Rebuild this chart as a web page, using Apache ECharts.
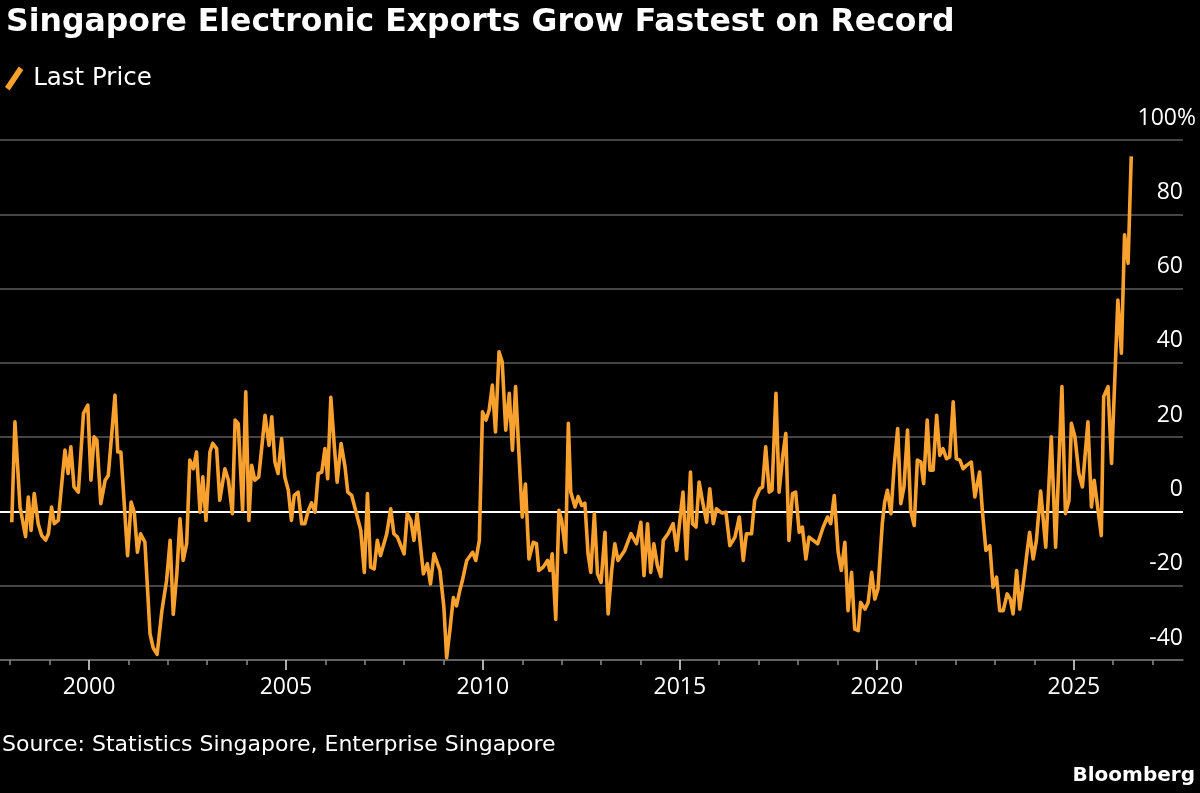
<!DOCTYPE html>
<html>
<head>
<meta charset="utf-8">
<script src="https://cdn.jsdelivr.net/npm/echarts@6/dist/echarts.min.js"></script>
<style>
html,body{margin:0;padding:0;background:#000;}
#chart{width:1200px;height:793px;}
</style>
</head>
<body>
<div id="chart"></div>
<script>
// Dates as decimal years
const dates = [
1998.04,1998.12,1998.25,1998.39,1998.46,1998.53,1998.61,1998.71,1998.80,1998.90,1998.97,
1999.05,1999.12,1999.22,1999.39,1999.47,1999.54,1999.62,1999.73,1999.86,1999.97,
2000.05,2000.13,2000.20,2000.30,2000.41,2000.49,2000.66,2000.73,2000.81,2000.98,
2001.07,2001.15,2001.23,2001.31,2001.42,2001.55,2001.63,2001.73,2001.85,2001.97,
2002.06,2002.14,2002.23,2002.31,2002.39,2002.48,2002.56,2002.65,2002.73,2002.82,2002.89,2002.97,
2003.07,2003.14,2003.24,2003.32,2003.45,2003.54,2003.64,2003.71,2003.79,2003.90,2003.98,
2004.06,2004.13,2004.21,2004.31,2004.47,2004.57,2004.64,2004.72,2004.80,2004.89,2004.97,
2005.06,2005.14,2005.21,2005.31,2005.40,2005.48,2005.57,2005.65,2005.74,2005.82,2005.91,2005.99,
2006.06,2006.14,2006.23,2006.30,2006.40,2006.50,2006.57,2006.67,2006.79,2006.90,2006.99,
2007.07,2007.15,2007.24,2007.32,2007.40,2007.56,2007.66,2007.74,2007.83,
2008.00,2008.08,2008.17,2008.25,2008.33,2008.49,2008.59,2008.67,2008.76,2008.91,
2009.01,2009.08,2009.16,2009.25,2009.33,2009.42,2009.48,2009.59,2009.74,2009.82,2009.91,2009.99,
2010.08,2010.16,2010.24,2010.32,2010.41,2010.49,2010.58,2010.67,2010.75,2010.83,2010.91,
2011.00,2011.08,2011.17,2011.28,2011.36,2011.42,2011.53,2011.64,2011.70,2011.76,2011.85,2011.93,
2012.00,2012.10,2012.17,2012.23,2012.34,2012.42,2012.51,2012.59,2012.67,2012.74,2012.83,2012.91,
2013.00,2013.10,2013.18,2013.27,2013.35,2013.43,2013.60,2013.76,2013.90,
2014.01,2014.09,2014.18,2014.26,2014.34,2014.43,2014.52,2014.58,2014.70,2014.83,2014.92,
2015.00,2015.08,2015.17,2015.27,2015.32,2015.41,2015.49,2015.58,2015.68,2015.76,2015.85,2015.93,
2016.06,2016.17,2016.27,2016.40,2016.51,2016.61,2016.69,2016.82,2016.90,
2017.03,2017.10,2017.18,2017.27,2017.34,2017.44,2017.52,2017.61,2017.69,2017.77,2017.86,2017.94,
2018.03,2018.11,2018.20,2018.28,2018.50,2018.64,2018.75,2018.83,2018.92,
2019.02,2019.10,2019.19,2019.27,2019.36,2019.44,2019.53,2019.59,2019.70,2019.78,2019.87,2019.95,
2020.03,2020.14,2020.20,2020.27,2020.36,2020.44,2020.53,2020.61,2020.69,2020.78,2020.86,2020.95,
2021.03,2021.12,2021.19,2021.28,2021.35,2021.43,2021.52,2021.60,2021.68,2021.77,2021.85,2021.94,
2022.02,2022.11,2022.19,2022.28,2022.40,2022.49,2022.61,2022.68,2022.77,2022.87,2022.95,
2023.04,2023.12,2023.21,2023.31,2023.39,2023.46,2023.55,2023.63,2023.73,2023.82,2023.88,2023.97,
2024.05,2024.16,2024.29,2024.43,2024.54,2024.70,2024.79,2024.88,2024.94,
2025.03,2025.13,2025.22,2025.36,2025.45,2025.52,2025.70,2025.76,2025.87,2025.96,
2026.12,2026.21,2026.29,2026.38,2026.46
];
// Year-over-year % change ("Last Price")
const values = [
-2.9,24.1,1.2,-6.8,3.9,-5.1,4.8,-3.3,-6.5,-7.7,-6,
1.2,-3.3,-2.4,16.5,10.2,17.4,6.6,5.2,26.4,28.6,
8.4,20.1,19.2,2.1,8.4,9.7,31.3,16,16,-11.9,
2.5,-0.2,-11,-6,-8.3,-33,-36.7,-38.5,-26.8,-18.6,
-7.8,-27.7,-16.8,-2,-13.2,-8.7,13.8,11.5,16,-0.2,9.3,-2.4,
16,18.3,16.9,3,11.5,8.4,-0.6,24.6,23.6,0.3,32.2,
-2.4,12.4,8.4,9.3,25.9,17.8,25.5,13.3,10.2,19.6,9.3,
5.7,-2.4,4.3,5.2,-3.3,-3.3,0.3,2.3,-0.2,10.2,10.6,16.9,
8.8,30.7,17.4,7.9,18.3,12,5.2,4.3,-0.6,-5.1,-16.4,
4.8,-15,-15.5,-7.8,-11.9,-6,0.7,-6,-6.9,
-11.4,-0.6,-2.4,-7.8,-0.6,-16.8,-14.1,-19.5,-11.4,-15.9,
-25.8,-39.4,-32.2,-23.2,-25.4,-21,-18.6,-13.2,-11,-13.2,-7.8,26.8,
24.6,27.3,34,21.4,43,40.3,21.9,31.8,16.5,33.6,16.5,
-1.5,7.4,-12.8,-8.3,-8.7,-15.9,-15,-13.2,-15.9,-11.4,-29.1,0.3,
-2.4,-11,23.7,5.2,1.2,4,1.6,2.2,-11.4,-16.4,-0.6,-16.8,
-19.1,-5.6,-27.6,-15.9,-8.7,-13.2,-10.5,-6,-8.7,
-2.9,-17.3,-3.3,-16.4,-8.7,-14.6,-17.5,-7.8,-6,-3.3,-10.5,
-2.4,5.2,-12.8,10.6,-3.3,-4.2,7.9,2.5,-2.9,6.1,-3.3,0.7,
-0.4,-0.2,-9.2,-6.9,-1.5,-13.2,-6,-6,3,
6.1,6.6,17.4,5.2,5.7,31.8,5.2,14.7,21,-7.8,4.8,5.2,
-5.6,-4.2,-12.8,-6.9,-8.7,-4.2,-1.5,-3.3,4.3,
-11,-15.9,-8.3,-26.7,-16.4,-31.7,-32.1,-24.5,-26.3,-24.5,-16.4,-23.6,
-20.9,-3.3,2.5,5.7,-0.6,12,22.3,2.1,6.6,21.9,0.3,-3.8,
13.8,13.3,7.5,24.6,11.1,11.1,25.9,15.1,16.9,14.2,14.7,29.5,
14.2,13.8,11.5,12.4,13.3,3.9,10.6,0.3,-10.5,-9.2,-20.4,
-17.7,-26.7,-26.7,-22.2,-23.6,-27.6,-15.9,-26.3,-18.6,-10.5,-5.6,-12.8,
-8,5.5,-9.6,20.1,-9.6,33.6,-0.6,3,23.7,
20.1,10.2,6.6,24.1,1.2,8.4,-6.5,30.9,33.6,12.9,
56.9,42.6,74.5,66.8,95.6
];
const seriesName = 'Last Price';
const majorYears = [2000, 2005, 2010, 2015, 2020, 2025];
const minorYears = [1998,1999,2001,2002,2003,2004,2006,2007,2008,2009,2011,2012,2013,2014,2016,2017,2018,2019,2021,2022,2023,2024,2026,2027];
const titleText = 'Singapore Electronic Exports Grow Fastest on Record';
const sourceText = 'Source: Statistics Singapore, Enterprise Singapore';
const brandText = 'Bloomberg';

const points = dates.map((d, i) => [d, values[i]]);
const xMin = 1997.741, xMax = 2027.774;
const numFont = '"Open Sans", "DejaVu Sans", sans-serif';

const chart = echarts.init(document.getElementById('chart'), null, {renderer: 'canvas'});
chart.setOption({
  backgroundColor: '#000000',
  animation: false,
  title: {
    text: titleText, left: 1, top: 2,
    textStyle: {color: '#ffffff', fontSize: 31.5, fontWeight: 'bold', fontFamily: '"DejaVu Sans", sans-serif'}
  },
  legend: {
    data: [seriesName], left: 0, top: 61,
    itemWidth: 28, itemHeight: 24, itemGap: 10,
    icon: 'path://M0,18 L12,0 L16,3 L4,21 Z',
    textStyle: {color: '#ffffff', fontSize: 24.5, fontFamily: '"DejaVu Sans", sans-serif'}
  },
  grid: {left: 0, right: 17, top: 140, bottom: 133, outerBoundsMode: 'none'},
  xAxis: [
    {
      type: 'value', min: xMin, max: xMax, position: 'bottom',
      axisLine: {show: true, onZero: false, lineStyle: {color: '#6b6b6b', width: 1.5}},
      axisTick: {show: true, customValues: majorYears, length: 10, lineStyle: {color: '#e6e6e6', width: 1.5}},
      axisLabel: {show: true, customValues: majorYears, margin: 16, color: '#ffffff', fontSize: 23, fontFamily: numFont, formatter: v => String(Math.round(v))},
      splitLine: {show: false}
    },
    {
      type: 'value', min: xMin, max: xMax, position: 'bottom',
      axisLine: {show: false, onZero: false},
      axisTick: {show: true, customValues: minorYears, length: 5, lineStyle: {color: '#8a8a8a', width: 1.5}},
      axisLabel: {show: false},
      splitLine: {show: false}
    }
  ],
  yAxis: {
    type: 'value', position: 'right', min: -40, max: 100, interval: 20,
    axisLine: {show: false}, axisTick: {show: false},
    splitLine: {show: true, lineStyle: {color: '#5c5c5c', width: 1.5}},
    axisLabel: {
      inside: true, margin: -13, align: 'right', verticalAlign: 'middle',
      color: '#ffffff', fontSize: 23, fontFamily: numFont,
      padding: [0, 0, 44, 0],
      formatter: v => v === 100 ? '{p|100%}' : '{n|' + v + '}',
      rich: {
        n: {color: '#ffffff', fontSize: 23, fontFamily: numFont, padding: [0, 13, 0, 0]},
        p: {color: '#ffffff', fontSize: 23, fontFamily: numFont}
      }
    }
  },
  series: [
    {
      name: 'zero', type: 'line', data: [], z: 1, silent: true,
      markLine: {
        silent: true, symbol: 'none', label: {show: false},
        lineStyle: {color: '#ffffff', width: 2, type: 'solid'},
        data: [{yAxis: 0}]
      }
    },
    {
      name: seriesName, type: 'line', data: points, z: 5,
      showSymbol: false, symbol: 'none',
      lineStyle: {color: '#f8a12e', width: 3.6, join: 'round'},
      itemStyle: {color: '#f8a12e'}
    }
  ],
  graphic: [
    {type: 'text', left: 2, top: 734, style: {text: sourceText, fill: '#ffffff', font: '22px "DejaVu Sans", sans-serif'}},
    {type: 'text', right: 5, top: 766, style: {text: brandText, fill: '#ffffff', font: 'bold 20px "DejaVu Sans", sans-serif'}}
  ]
});
</script>
</body>
</html>
